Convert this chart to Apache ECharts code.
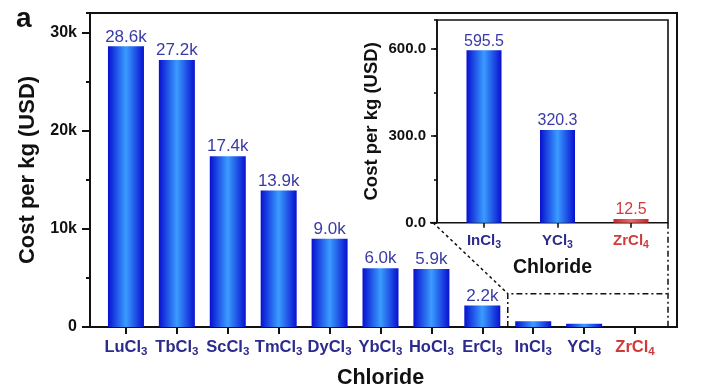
<!DOCTYPE html>
<html><head><meta charset="utf-8">
<script src="https://cdn.jsdelivr.net/npm/echarts@6/dist/echarts.min.js"></script>
<style>html,body{margin:0;padding:0;background:#fff}#c{width:704px;height:390px}</style>
</head><body><div id="c"></div>
<script>
// ---- data ----
const categories = ['LuCl3','TbCl3','ScCl3','TmCl3','DyCl3','YbCl3','HoCl3','ErCl3','InCl3','YCl3','ZrCl4'];
const costs = [28600, 27200, 17400, 13900, 9000, 6000, 5900, 2200, 595.5, 320.3, 12.5];
const insetCategories = ['InCl3','YCl3','ZrCl4'];
const insetCosts = [595.5, 320.3, 12.5];
const mainTicks = [0, 10000, 20000, 30000];
const insetTicks = [0, 300, 600];
const highlight = 'ZrCl4';

const FONT = '"Liberation Sans", Arial, sans-serif';
const NAVY = '#2b2b8e', LBL = '#3a3aa6', RED = '#d23a3a';
const blueGrad = new echarts.graphic.LinearGradient(0,0,1,0,[
  {offset:0,color:'#0810d0'},{offset:0.5,color:'#3a9cff'},{offset:1,color:'#0810d0'}]);
const redGrad = new echarts.graphic.LinearGradient(0,0,1,0,[
  {offset:0,color:'#c42828'},{offset:0.5,color:'#e86a6a'},{offset:1,color:'#c42828'}]);

function catLabel(v){
  const m = v.match(/^(.*?)(\d+)$/);
  const red = v === highlight;
  return red ? `{r|${m[1]}}{rs|${m[2]}}` : `{n|${m[1]}}{s|${m[2]}}`;
}
function rich(fs){
  return {
    n:{fontFamily:FONT,fontWeight:'bold',fontSize:fs,color:NAVY},
    s:{fontFamily:FONT,fontWeight:'bold',fontSize:fs*0.7,color:NAVY,padding:[fs*0.55,0,0,0]},
    r:{fontFamily:FONT,fontWeight:'bold',fontSize:fs,color:RED},
    rs:{fontFamily:FONT,fontWeight:'bold',fontSize:fs*0.7,color:RED,padding:[fs*0.55,0,0,0]}
  };
}
const fmtK = v => (v/1000).toFixed(1)+'k';

const mainMax = 32000, insetMax = 700;
const mainData = costs.map((v,i)=>({
  value:v,
  itemStyle:{color: categories[i]===highlight ? redGrad : blueGrad},
  label:{show: v >= 1000}
}));
const insetData = insetCosts.map((v,i)=>({
  value:v,
  itemStyle:{color: insetCategories[i]===highlight ? redGrad : blueGrad},
  label:{color: insetCategories[i]===highlight ? RED : LBL}
}));

const chart = echarts.init(document.getElementById('c'), null, {renderer:'canvas'});
const hidden = {show:false};
const G = {outerBoundsMode:'none',containLabel:false};
const option = {
  animation:false,
  backgroundColor:'#fff',
  title:{text:'a',left:11,top:0,textStyle:{fontFamily:FONT,fontWeight:'bold',fontSize:28,color:'#111'}},
  grid:[
    Object.assign({left:100.5,right:43.5,top:13,bottom:63},G),               // main data
    Object.assign({left:90,right:27,top:13,bottom:63,show:true,borderColor:'#111',borderWidth:2,backgroundColor:'transparent'},G), // main frame
    Object.assign({left:447.25,right:36.25,top:20,bottom:167.3},G),          // inset data
    Object.assign({left:437,right:36,top:20,bottom:167.3,show:true,borderColor:'#111',borderWidth:1.6,backgroundColor:'#fff',z:3},G) // inset frame
  ],
  xAxis:[
    {gridIndex:0,type:'category',data:categories,axisLine:hidden,
     axisTick:{show:true,alignWithLabel:true,interval:0,length:7,lineStyle:{color:'#111',width:2}},
     axisLabel:{interval:0,margin:10,formatter:catLabel,rich:rich(16.5)},
     name:'Chloride',nameLocation:'middle',nameGap:40,
     nameTextStyle:{fontFamily:FONT,fontWeight:'bold',fontSize:21.5,color:'#111'}},
    {gridIndex:1,type:'value',show:false,min:0,max:1},
    {gridIndex:2,type:'category',data:insetCategories,axisLine:hidden,z:4,
     axisTick:{show:true,alignWithLabel:true,interval:0,length:5,lineStyle:{color:'#111',width:1.6}},
     axisLabel:{interval:0,margin:9,formatter:catLabel,rich:rich(15)},
     name:'Chloride',nameLocation:'middle',nameGap:35,
     nameTextStyle:{fontFamily:FONT,fontWeight:'bold',fontSize:19.5,color:'#111',padding:[0,10,0,0]}},
    {gridIndex:3,type:'value',show:false,min:0,max:1}
  ],
  yAxis:[
    {gridIndex:0,type:'value',min:0,max:mainMax,show:false},
    {gridIndex:1,type:'value',position:'left',min:0,max:mainMax,interval:mainTicks[1]-mainTicks[0],
     axisLine:{show:true,lineStyle:{color:'#111',width:2}},
     axisTick:{show:true,length:8,lineStyle:{color:'#111',width:2}},
     splitLine:hidden,
     axisLabel:{showMaxLabel:false,margin:13,fontFamily:FONT,fontWeight:'bold',fontSize:16,color:'#111',
       formatter:v=> v===0 ? '0' : (v/1000)+'k'},
     name:'Cost per kg (USD)',nameLocation:'middle',nameGap:51,
     nameTextStyle:{fontFamily:FONT,fontWeight:'bold',fontSize:22,color:'#111'}},
    {gridIndex:1,type:'value',position:'left',min:0,max:mainMax,interval:(mainTicks[1]-mainTicks[0])/2,
     axisLine:hidden,axisLabel:hidden,splitLine:hidden,
     axisTick:{show:true,length:4,lineStyle:{color:'#111',width:2}}},
    {gridIndex:2,type:'value',min:0,max:insetMax,show:false},
    {gridIndex:3,type:'value',position:'left',min:0,max:insetMax,interval:insetTicks[1]-insetTicks[0],z:4,
     axisLine:{show:true,lineStyle:{color:'#111',width:1.6}},
     axisTick:{show:true,length:6,lineStyle:{color:'#111',width:1.6}},
     splitLine:hidden,
     axisLabel:{showMaxLabel:false,margin:11,fontFamily:FONT,fontWeight:'bold',fontSize:15,color:'#111',
       formatter:v=>v.toFixed(1)},
     name:'Cost per kg (USD)',nameLocation:'middle',nameGap:56,
     nameTextStyle:{fontFamily:FONT,fontWeight:'bold',fontSize:18.5,color:'#111'}},
    {gridIndex:3,type:'value',position:'left',min:0,max:insetMax,interval:(insetTicks[1]-insetTicks[0])/2,z:4,
     axisLine:hidden,axisLabel:hidden,splitLine:hidden,
     axisTick:{show:true,length:3,lineStyle:{color:'#111',width:1.6}}}
  ],
  series:[
    {type:'bar',xAxisIndex:0,yAxisIndex:0,data:mainData,barWidth:36,z:2,
     label:{position:'top',distance:1,fontFamily:FONT,fontSize:17,color:LBL,formatter:p=>fmtK(p.value)}},
    {type:'bar',xAxisIndex:2,yAxisIndex:3,data:insetData,barWidth:35,z:5,
     label:{show:true,position:'top',distance:1,fontFamily:FONT,fontSize:16,formatter:p=>p.value.toFixed(1)}}
  ]
};
chart.setOption(option);

// zoom-box annotation linking the small bars to the inset
const xL = (chart.convertToPixel({xAxisIndex:0},7) + chart.convertToPixel({xAxisIndex:0},8))/2;
const yTop = chart.convertToPixel({yAxisIndex:0},3400);
const yBase = chart.convertToPixel({yAxisIndex:0},0);
const insetL = chart.convertToPixel({xAxisIndex:3},0);
const insetR = chart.convertToPixel({xAxisIndex:3},1);
const insetB = chart.convertToPixel({yAxisIndex:4},0);
const ds = {stroke:'#111',lineWidth:1.5,lineDash:[6,3,2,3]};
const dot = {stroke:'#111',lineWidth:1.5,lineDash:[3,3]};
chart.setOption({graphic:[
  {type:'line',z:10,shape:{x1:insetL-4,y1:insetB,x2:xL,y2:yTop},style:dot},
  {type:'polyline',z:10,shape:{points:[[xL,yBase],[xL,yTop],[insetR,yTop]]},style:ds},
  {type:'line',z:10,shape:{x1:insetR,y1:insetB,x2:insetR,y2:yBase},style:ds},
  {type:'line',z:10,shape:{x1:insetL-7,y1:insetB,x2:insetL,y2:insetB},style:{stroke:'#111',lineWidth:1.6}}
]});
</script></body></html>
